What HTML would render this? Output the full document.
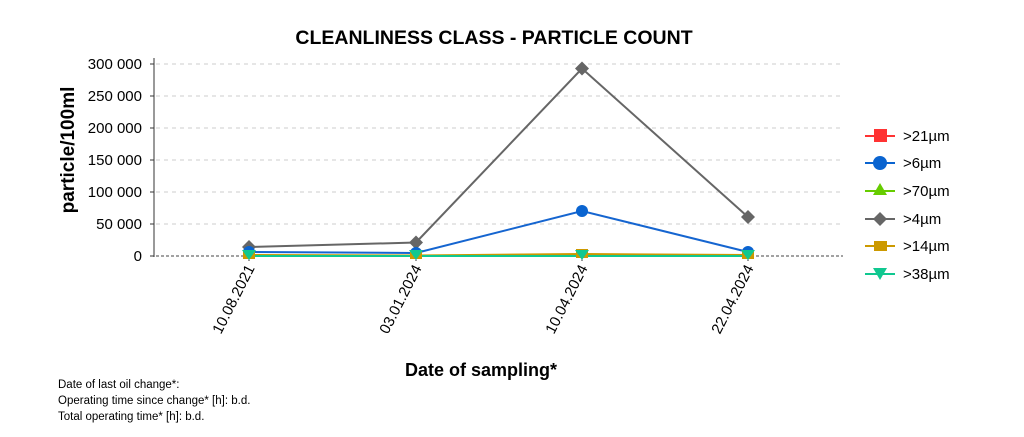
<!DOCTYPE html>
<html><head><meta charset="utf-8"><style>
body{margin:0;background:#fff;}
svg text{font-family:"Liberation Sans",Arial,sans-serif;fill:#000;}
</style></head><body>
<svg width="1024" height="432" xmlns="http://www.w3.org/2000/svg">
<text x="494" y="44" font-size="19.5" font-weight="bold" text-anchor="middle">CLEANLINESS CLASS - PARTICLE COUNT</text>
<g stroke="#ccc" stroke-dasharray="4,4" stroke-width="1">
<line x1="156" x2="843" y1="64" y2="64"/><line x1="156" x2="843" y1="96" y2="96"/>
<line x1="156" x2="843" y1="128" y2="128"/><line x1="156" x2="843" y1="160" y2="160"/>
<line x1="156" x2="843" y1="192" y2="192"/><line x1="156" x2="843" y1="224" y2="224"/>
</g>
<line x1="156" x2="843" y1="256" y2="256" stroke="#444" stroke-dasharray="3,2"/>
<line x1="154" x2="154" y1="58" y2="257" stroke="#333"/>
<g stroke="#333"><line x1="150" x2="154" y1="64" y2="64"/><line x1="150" x2="154" y1="96" y2="96"/><line x1="150" x2="154" y1="128" y2="128"/><line x1="150" x2="154" y1="160" y2="160"/><line x1="150" x2="154" y1="192" y2="192"/><line x1="150" x2="154" y1="224" y2="224"/><line x1="150" x2="154" y1="256" y2="256"/>
<line x1="249" x2="249" y1="256" y2="261"/><line x1="416" x2="416" y1="256" y2="261"/><line x1="582" x2="582" y1="256" y2="261"/><line x1="748" x2="748" y1="256" y2="261"/></g>
<g font-size="15" text-anchor="end">
<text x="142" y="69">300 000</text><text x="142" y="101">250 000</text><text x="142" y="133">200 000</text><text x="142" y="165">150 000</text><text x="142" y="197">100 000</text><text x="142" y="229">50 000</text><text x="142" y="261">0</text>
</g>
<g font-size="15" text-anchor="end">
<text transform="translate(255,268) rotate(-63)">10.08.2021</text>
<text transform="translate(422,268) rotate(-63)">03.01.2024</text>
<text transform="translate(588,268) rotate(-63)">10.04.2024</text>
<text transform="translate(754,268) rotate(-63)">22.04.2024</text>
</g>
<text transform="translate(74,150) rotate(-90)" font-size="19" font-weight="bold" text-anchor="middle">particle/100ml</text>
<text x="481" y="376" font-size="18" font-weight="bold" text-anchor="middle">Date of sampling*</text>
<g font-size="11.5"><text x="58" y="388">Date of last oil change*:</text><text x="58" y="404">Operating time since change* [h]: b.d.</text><text x="58" y="420">Total operating time* [h]: b.d.</text></g>
<polyline points="249,247 416,242.5 582,68.5 748,217" fill="none" stroke="#666" stroke-width="2"/>
<polyline points="249,252 416,253 582,211 748,252" fill="none" stroke="#1565d0" stroke-width="2"/>
<polyline points="249,255 416,255.5 582,254 748,255" fill="none" stroke="#cc9900" stroke-width="2"/>
<polyline points="249,256 416,256 582,256 748,256" fill="none" stroke="#10c890" stroke-width="2"/>
<g fill="#666">
<path d="M249,240 l7,7 l-7,7 l-7,-7z"/><path d="M416,235.5 l7,7 l-7,7 l-7,-7z"/><path d="M582,61.5 l7,7 l-7,7 l-7,-7z"/><path d="M748,210 l7,7 l-7,7 l-7,-7z"/>
</g>
<g fill="#0a64d0"><circle cx="249" cy="252" r="6"/><circle cx="416" cy="253" r="6"/><circle cx="582" cy="211" r="6"/><circle cx="748" cy="252" r="6"/></g>
<g fill="#cc9900"><rect x="243" y="250" width="12" height="9"/><rect x="410" y="250" width="12" height="9"/><rect x="576" y="249" width="12" height="9"/><rect x="742" y="250" width="12" height="9"/></g>
<g fill="#10c890"><path d="M242,250 h14 l-7,10z"/><path d="M409,250 h14 l-7,10z"/><path d="M575,250 h14 l-7,10z"/><path d="M741,250 h14 l-7,10z"/></g>
<g stroke-width="2">
<line x1="865" x2="895" y1="136" y2="136" stroke="#f33"/><rect x="874" y="129" width="13" height="13" fill="#f33"/>
<line x1="865" x2="895" y1="163" y2="163" stroke="#0a64d0"/><circle cx="880" cy="163" r="7" fill="#0a64d0"/>
<line x1="865" x2="895" y1="191" y2="191" stroke="#66cc00"/><path d="M880,183 l7,12 h-14z" fill="#66cc00"/>
<line x1="865" x2="895" y1="219" y2="219" stroke="#666"/><path d="M880,212 l7,7 l-7,7 l-7,-7z" fill="#666"/>
<line x1="865" x2="895" y1="246" y2="246" stroke="#cc9900"/><rect x="874" y="241" width="13" height="10" fill="#cc9900"/>
<line x1="865" x2="895" y1="274" y2="274" stroke="#10c890"/><path d="M873,268 h14 l-7,12z" fill="#10c890"/>
</g>
<g font-size="15"><text x="903" y="141">&gt;21µm</text><text x="903" y="168">&gt;6µm</text><text x="903" y="196">&gt;70µm</text><text x="903" y="224">&gt;4µm</text><text x="903" y="251">&gt;14µm</text><text x="903" y="279">&gt;38µm</text></g>
</svg>
</body></html>
